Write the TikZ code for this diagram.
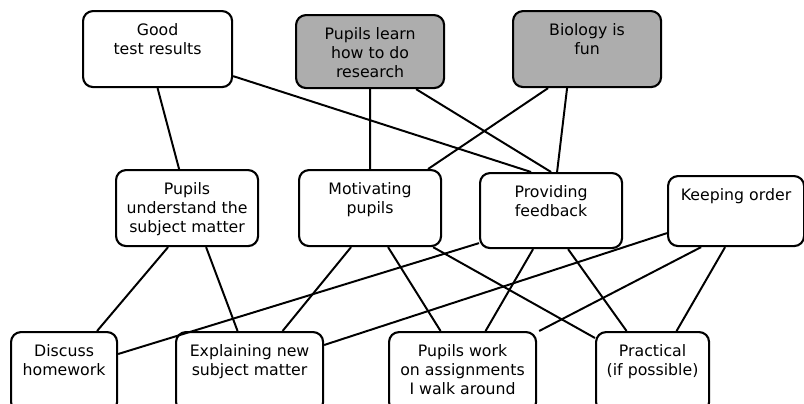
\documentclass[tikz,border=0pt]{standalone}
\usepackage{fontspec}
\setmainfont{DejaVu Sans}
\usetikzlibrary{calc}
\definecolor{goalgray}{gray}{0.68}
% lines of a box, first baseline on top
\newcommand{\boxlines}[1]{\begin{tabular}[t]{@{}c@{}}#1\end{tabular}}
\begin{document}
\begin{tikzpicture}
	[x=0.025cm, y=-0.025cm,
	font=\fontsize{11.2}{13.5}\selectfont,
	tbox/.style={draw, line width=1.5pt, rounded corners=0.25cm,
		anchor=north west, inner ysep=0pt, text height=0.6cm},
	goal/.style={tbox, fill=goalgray},
	link/.style={line width=1.4pt}]
	\useasboundingbox (0,0) rectangle (804,403);
	% aims
	\path node (gtr) at (82,10)  [tbox, minimum width=3.725cm, text depth=1.3cm]   {\boxlines{Good\\test results}}
		  node (res) at (295,14) [goal, minimum width=3.7cm, text depth=1.225cm]   {\boxlines{Pupils learn\\how to do\\research}}
		  node (fun) at (512,10) [goal, minimum width=3.7cm, text depth=1.3cm]     {\boxlines{Biology is\\fun}};
	% teaching tasks
	\path node (und) at (115,169) [tbox, minimum width=3.55cm, text depth=1.3cm]  {\boxlines{Pupils\\understand the\\subject matter}}
		  node (mot) at (298,169) [tbox, minimum width=3.55cm, text depth=1.3cm]  {\boxlines{Motivating\\pupils}}
		  node (fee) at (479,172) [tbox, minimum width=3.55cm, text depth=1.275cm] {\boxlines{Providing\\feedback}}
		  node (ord) at (667,175) [tbox, minimum width=3.4cm, text depth=1.15cm]   {\boxlines{Keeping order}};
	% lesson activities
	\path node (hw)  at (10,331)  [tbox, minimum width=2.65cm, text depth=1.4cm]  {\boxlines{Discuss\\homework}}
		  node (exp) at (175,331) [tbox, minimum width=3.675cm, text depth=1.4cm] {\boxlines{Explaining new\\subject matter}}
		  node (wrk) at (388,331) [tbox, minimum width=3.675cm, text depth=1.4cm] {\boxlines{Pupils work\\on assignments\\I walk around}}
		  node (pra) at (595,331) [tbox, minimum width=2.825cm, text depth=1.4cm] {\boxlines{Practical\\(if possible)}};

	% aims -- tasks
	\draw[link] (gtr.south) -- ($(und.north)+(-8,0)$);
	\draw[link] ($(gtr.south east)+(0,-12)$) -- ($(fee.north)+(-20,0)$);
	\draw[link] (res.south) -- (mot.north);
	\draw[link] ($(res.south)+(46,0)$) -- (fee.north);
	\draw[link] ($(fun.south)+(-39,0)$) -- ($(mot.north)+(58,0)$);
	\draw[link] ($(fun.south)+(-20,0)$) -- ($(fee.north)+(6,0)$);
	% tasks -- activities
	\draw[link] ($(und.south)+(-19,0)$) -- ($(hw.north)+(33,0)$);
	\draw[link] ($(und.south)+(19,0)$) -- ($(exp.north)+(-12,0)$);
	\draw[link] ($(mot.south)+(-19,0)$) -- ($(exp.north)+(33,0)$);
	\draw[link] ($(mot.south)+(18,0)$) -- ($(wrk.north)+(-22,0)$);
	\draw[link] ($(mot.south)+(63,0)$) -- ($(pra.north west)+(0,7)$);
	\draw[link] ($(fee.south west)+(0,-6)$) -- ($(hw.north east)+(0,23)$);
	\draw[link] ($(fee.south)+(-18,0)$) -- ($(wrk.north)+(23,0)$);
	\draw[link] ($(fee.south)+(17,0)$) -- ($(pra.north)+(-26,0)$);
	\draw[link] ($(ord.south west)+(0,-14)$) -- ($(exp.north east)+(0,14)$);
	\draw[link] ($(ord.south)+(-35,0)$) -- ($(wrk.north east)+(2,0)$);
	\draw[link] ($(ord.south)+(-11,0)$) -- ($(pra.north)+(24,0)$);
\end{tikzpicture}
\end{document}
